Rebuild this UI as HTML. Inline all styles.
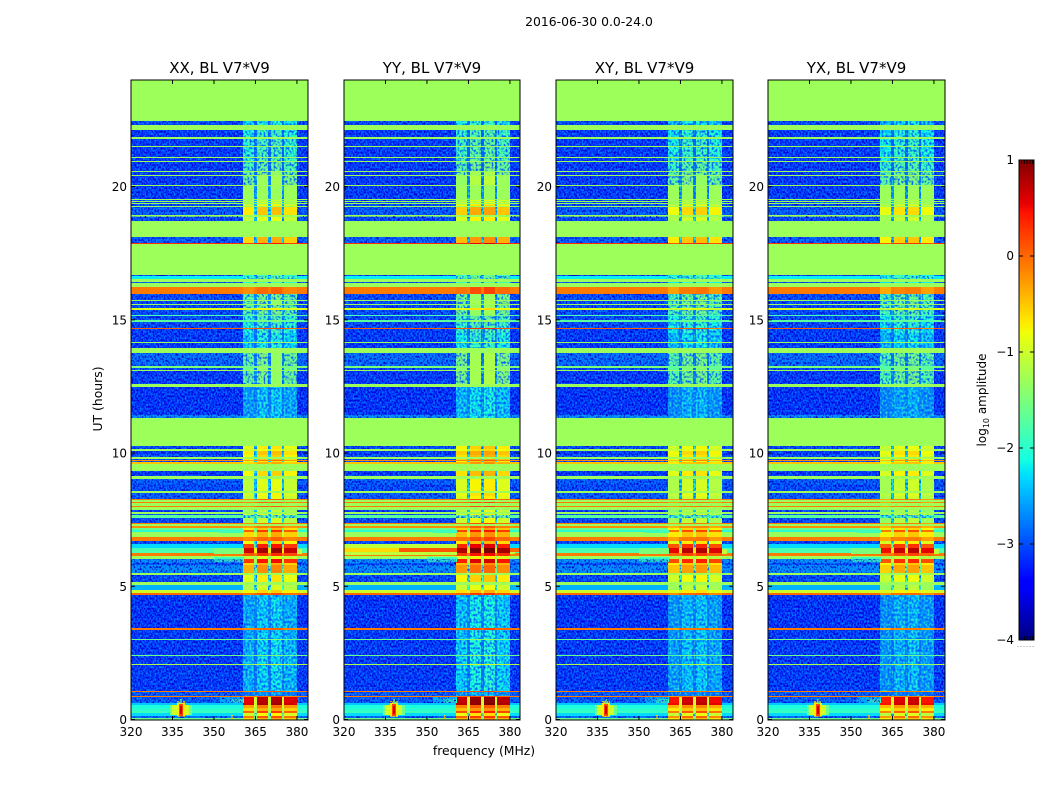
<!DOCTYPE html>
<html>
<head>
<meta charset="utf-8">
<title>Spectrogram 2016-06-30</title>
<style>
html,body{margin:0;padding:0;background:#fff;}
svg{display:block;}
text{font-family:"DejaVu Sans","Liberation Sans",sans-serif;fill:#000;}
</style>
</head>
<body>
<svg id="chart" xmlns="http://www.w3.org/2000/svg" width="1050" height="800" viewBox="0 0 1050 800">
<defs>
<filter id="speckle" filterUnits="userSpaceOnUse" x="0" y="0" width="1050" height="800" color-interpolation-filters="sRGB">
<feTurbulence type="fractalNoise" baseFrequency="0.62 0.48" numOctaves="1" seed="7" result="n"/>
<feColorMatrix in="n" type="matrix" values="0 0 0 0 0  0 0 0 0 0  0 0 0 0 0.82  -3.6 0 0 0 1.95" result="dark"/>
<feColorMatrix in="n" type="matrix" values="0 0 0 0 0  0 0 0 0 0.56  0 0 0 0 1  3.2 0 0 0 -1.5" result="light"/>
<feMerge result="m"><feMergeNode in="dark"/><feMergeNode in="light"/></feMerge>
<feComposite in="m" in2="SourceAlpha" operator="in"/>
</filter>
<filter id="speckle-band" filterUnits="userSpaceOnUse" x="0" y="0" width="1050" height="800" color-interpolation-filters="sRGB">
<feTurbulence type="fractalNoise" baseFrequency="0.5 0.42" numOctaves="1" seed="23" result="n"/>
<feColorMatrix in="n" type="matrix" values="0 0 0 0 0  0 0 0 0 0.35  0 0 0 0 1  -3.4 0 0 0 1.9" result="dark"/>
<feColorMatrix in="n" type="matrix" values="0 0 0 0 0.3  0 0 0 0 1  0 0 0 0 0.7  2.4 0 0 0 -1.25" result="light"/>
<feMerge result="m"><feMergeNode in="dark"/><feMergeNode in="light"/></feMerge>
<feComposite in="m" in2="SourceAlpha" operator="in"/>
</filter>
</defs>
<rect width="1050" height="800" fill="#fff"/>
<text x="589" y="26" font-size="12.4" text-anchor="middle">2016-06-30 0.0-24.0</text>
<text x="484" y="755" font-size="12.4" text-anchor="middle">frequency (MHz)</text>
<text transform="translate(102,399) rotate(-90)" font-size="12.4" text-anchor="middle">UT (hours)</text>
<text transform="translate(986,400) rotate(-90)" font-size="12" text-anchor="middle">log<tspan font-size="8" dy="3">10</tspan><tspan dy="-3"> amplitude</tspan></text>
<g id="panels"></g>
<g id="colorbar"></g>
</svg>
<script>
const panelTitles = ["XX, BL V7*V9","YY, BL V7*V9","XY, BL V7*V9","YX, BL V7*V9"];
const xTicks = [320,335,350,365,380];
const yTicks = [0,5,10,15,20];
const colorbarTicks = [1,0,-1,-2,-3,-4];
const F = -1.3;

// Lower hour edge of each time band, top of the plot downward from 24 h.
const bandEnds = [
22.45,22.30,22.14,21.85,21.79,21.54,21.49,21.11,21.06,20.95,
20.91,20.60,20.56,20.43,20.41,20.07,20.03,19.53,19.50,19.46,
19.43,19.38,19.36,19.32,19.30,19.26,19.23,18.95,18.91,18.88,
18.84,18.72,18.09,17.88,17.84,16.69,16.63,16.55,16.43,16.38,
16.23,15.98,15.75,15.70,15.60,15.57,15.44,15.38,15.19,15.16,
14.98,14.93,14.70,14.66,14.51,14.49,14.18,14.14,13.93,13.74,
13.25,13.21,13.10,13.07,12.60,12.47,11.43,11.30,10.25,10.17,
10.06,9.92,9.87,9.79,9.74,9.70,9.66,9.58,9.47,9.32,
9.12,9.02,8.84,8.59,8.51,8.39,8.29,8.25,8.18,8.14,
8.02,7.97,7.87,7.79,7.70,7.66,7.58,7.37,7.32,7.25,
7.20,7.12,7.04,6.86,6.71,6.59,6.43,6.24,6.15,6.04,
5.89,5.80,5.49,5.43,5.17,5.05,4.87,4.74,4.67,3.44,
3.36,3.02,2.99,2.42,2.38,2.08,2.05,1.07,1.04,0.88,
0.85,0.63,0.53,0.45,0.32,0.25,0.15,0.07,0.00];

// log10 amplitude outside the 360-380 MHz band.
const backgroundLevels = [
F,-3.0,F,-3.1,F,-3.1,F,-3.1,F,-3.1,
F,-3.1,F,-3.1,F,-3.1,F,-3.1,F,-3.0,
F,-3.0,F,-3.0,F,-3.0,F,-2.9,F,-2.9,
F,-3.0,F,-2.9,0.3,F,-3.0,-2.2,F,-2.9,
F,-0.1,-3.0,F,-3.0,F,-3.0,-0.9,-3.0,-1.8,
-3.0,-1.7,-3.0,0.05,-3.1,-0.1,-3.1,F,-3.1,F,
-2.8,-1.5,-3.0,F,-3.1,F,-3.15,-2.6,F,-3.0,
F,-3.1,-2.9,F,-3.0,-0.2,-2.9,-0.5,F,F,
-3.1,F,-2.9,-3.0,F,-2.9,-2.9,-0.1,F,-0.1,
F,-0.1,F,-3.1,F,-2.9,-1.7,-3.0,-0.1,F,
-0.2,-1.6,-2.0,F,-0.1,-3.0,-2.3,-1.8,-0.1,F,
-2.6,-3.0,-2.6,F,-3.0,F,-2.5,-1.0,0.0,-3.15,
-0.1,-3.1,-1.6,-3.1,-1.6,-3.1,-1.2,-3.1,-0.1,-2.9,
-0.1,-2.9,-2.4,-2.1,-2.0,-1.9,-2.3,-2.8,-1.6];

// log10 amplitude in the four bright sub-bands.
const subbandLevels = [
F,-2.2,F,-2.0,F,-1.9,F,-1.9,F,-1.85,
F,-1.7,F,-1.5,F,-1.4,F,-1.3,F,-1.1,
F,-1.1,F,-1.0,F,-0.9,F,-0.6,F,-0.8,
F,-1.0,F,-0.5,0.3,F,-2.0,-1.8,F,-2.0,
F,-0.1,-1.6,F,-1.5,F,-1.6,-0.9,-1.6,-1.7,
-1.9,-1.6,-2.0,0.05,-2.0,-0.1,-2.2,F,-2.2,F,
-1.5,-1.5,-1.5,F,-1.5,F,-2.45,-2.4,F,-0.8,
-0.9,-0.6,-0.7,F,-0.6,-0.2,-0.8,-0.5,F,F,
-0.7,F,-1.0,-1.0,F,-0.9,-1.0,-0.1,F,-0.1,
F,-0.1,F,-1.2,F,-1.0,-1.7,-1.1,-0.1,F,
-0.2,-0.6,0.15,-0.5,-0.1,-0.7,0.3,0.75,0.2,-1.0,
0.35,-0.5,-0.3,F,-0.8,F,-1.1,-0.7,0.0,-2.4,
-0.1,-2.4,-1.6,-2.35,-1.6,-2.35,-1.2,-2.35,-0.1,-2.7,
-0.1,0.65,0.7,-0.2,-0.5,0.1,-0.9,0.0,-0.5];

// log10 amplitude in the narrow notches between sub-bands.
const notchLevels = [
F,-2.9,F,-2.9,F,-2.9,F,-2.9,F,-2.9,
F,-2.9,F,-2.8,F,-2.7,F,-2.6,F,-2.5,
F,-2.5,F,-2.5,F,-2.5,F,-2.3,F,-2.3,
F,-2.4,F,-2.4,0.3,F,-2.8,-2.2,F,-2.8,
F,-0.1,-2.6,F,-2.6,F,-2.6,-0.9,-2.6,-1.8,
-2.7,-1.7,-2.7,0.05,-2.8,-0.1,-2.8,F,-2.8,F,
-2.8,-1.5,-2.8,F,-2.7,F,-2.7,-2.6,F,-2.4,
F,-2.4,-2.3,F,-2.3,-0.2,-2.3,-0.5,F,F,
-2.4,F,-2.4,-2.3,F,-2.4,-2.4,-0.1,F,-0.1,
F,-0.1,F,-2.4,F,-2.4,-1.7,-2.2,-0.1,F,
-0.2,-1.5,-1.5,-1.0,-0.1,-2.2,-1.5,-0.7,-0.1,F,
-1.2,-1.5,-1.6,F,-2.0,F,-1.9,-1.0,0.0,-2.7,
-0.1,-2.7,-1.6,-2.8,-1.6,-2.8,-1.2,-2.8,-0.1,-2.8,
-0.1,-1.0,-1.0,-1.0,-1.2,-1.3,-1.5,-1.5,-1.5];

// Channel edges of the column groups, in MHz, and which kind each group is.
const channelEdges = [320,360.5,364.5,365.5,369.7,370.5,374.7,375.5,380,384];
const channelKinds = ["bg","s0","n","s1","n","s2","n","s3","bg"];
const subbandOffsets = [-0.1,0.1,0.15,-0.05];
const polarisationOffsets = [0,0.15,-0.1,-0.15];

// Localised interference patches: panel (-1 = all), MHz range, hour range, level.
const patchPanels   = [-1,-1,-1,-1,-1,-1,-1,-1,-1,-1,-1,-1,-1,1,1,1,1,1];
const patchFreqLow  = [334,352,356,350,350,352,380,356,335,336.5,337.2,337.6,337.7,320,320,340,380,320];
const patchFreqHigh = [342,361,361,361,361,361,382,356.8,341,339.5,338.8,338.4,338.3,361,340,361,384,361];
const patchHourLow  = [0.16,0.63,0.63,6.2,5.9,7.0,6.2,0.02,0.16,0.08,0.12,0.2,0.6,6.42,6.28,6.28,6.28,6.18];
const patchHourHigh = [0.56,0.85,0.78,6.45,6.1,7.1,6.4,0.18,0.54,0.68,0.6,0.5,0.78,6.59,6.42,6.42,6.42,6.28];
const patchLevels   = [-1.6,-2.4,-1.9,-1.5,-1.9,-1.9,-1.1,-0.5,-1.0,-0.7,0.2,0.65,-1.5,-1.1,-0.6,0.1,0.0,-1.1];

const SVGNS = "http://www.w3.org/2000/svg";
const panelLefts = [131,344,556,768];
const panelWidths = [177,176,177,177];
const plotTop = 80, plotBottom = 719.5;

function yScale(h){ return plotBottom - (h/24)*(plotBottom-plotTop); }
function xScale(left,f){ return left + (f-320)/64*177; }
function clamp01(v){ return Math.max(0,Math.min(1,v)); }
function jet(v){
  const f = (v+4)/5;
  const r = f<0.35?0:f<0.66?(f-0.35)/0.31:f<0.89?1:1-(f-0.89)/0.11*0.5;
  const g = f<0.125?0:f<0.375?(f-0.125)/0.25:f<0.64?1:f<0.91?1-(f-0.64)/0.27:0;
  const b = f<0.11?0.5+f/0.11*0.5:f<0.34?1:f<0.65?1-(f-0.34)/0.31:0;
  return "rgb("+Math.round(clamp01(r)*255)+","+Math.round(clamp01(g)*255)+","+Math.round(clamp01(b)*255)+")";
}
function rect(parent,x,y,w,h,fill){
  const el = document.createElementNS(SVGNS,"rect");
  el.setAttribute("x",x); el.setAttribute("y",y);
  el.setAttribute("width",w); el.setAttribute("height",h);
  el.setAttribute("fill",fill);
  parent.appendChild(el);
  return el;
}
function line(parent,x1,y1,x2,y2,color){
  const el = document.createElementNS(SVGNS,"line");
  el.setAttribute("x1",x1); el.setAttribute("y1",y1);
  el.setAttribute("x2",x2); el.setAttribute("y2",y2);
  el.setAttribute("stroke",color||"#000");
  el.setAttribute("stroke-width","1");
  parent.appendChild(el);
  return el;
}
function label(parent,x,y,str,size,anchor){
  const el = document.createElementNS(SVGNS,"text");
  el.setAttribute("x",x); el.setAttribute("y",y);
  el.setAttribute("font-size",size);
  el.setAttribute("text-anchor",anchor);
  el.textContent = str;
  parent.appendChild(el);
  return el;
}
function levelFor(kind,row,pol){
  if(kind==="bg") return backgroundLevels[row];
  if(kind==="n") return notchLevels[row];
  const base = subbandLevels[row];
  if(base===F) return F;
  return base + subbandOffsets[+kind[1]] + polarisationOffsets[pol];
}

const panelsRoot = document.getElementById("panels");
panelLefts.forEach(function(left,pol){
  const panelWidth = panelWidths[pol];
  const right = left + panelWidth;
  const g = document.createElementNS(SVGNS,"g");
  
  
  panelsRoot.appendChild(g);

  const cells = document.createElementNS(SVGNS,"g");
  cells.setAttribute("shape-rendering","crispEdges");
  
  
  g.appendChild(cells);

  const texture = document.createElementNS(SVGNS,"g");
  texture.setAttribute("shape-rendering","crispEdges");
  texture.setAttribute("filter","url(#speckle)");
  
  

  const bandTexture = document.createElementNS(SVGNS,"g");
  bandTexture.setAttribute("shape-rendering","crispEdges");
  bandTexture.setAttribute("filter","url(#speckle-band)");
  
  

  let upper = 24;
  bandEnds.forEach(function(lower,row){
    const y0 = Math.round(yScale(upper));
    const y1 = Math.max(y0+1,Math.round(yScale(lower)));
    channelKinds.forEach(function(kind,c){
      const x0 = Math.round(xScale(left,channelEdges[c]));
      const x1 = Math.min(right,Math.round(xScale(left,channelEdges[c+1])));
      const level = levelFor(kind,row,pol);
      const cell = rect(cells,x0,y0,x1-x0,y1-y0,jet(level));
      
      
      if(kind==="bg" && level < -2.5){
        const grain = rect(texture,x0,y0,x1-x0,y1-y0,"#000");
        
        
      } else if(kind!=="bg" && level < -1.35 && y1-y0 > 2){
        const bandGrain = rect(bandTexture,x0,y0,x1-x0,y1-y0,"#000");
        
        
      }
    });
    upper = lower;
  });

  patchLevels.forEach(function(level,i){
    if(patchPanels[i]!==-1 && patchPanels[i]!==pol) return;
    const x0 = Math.round(xScale(left,patchFreqLow[i]));
    const x1 = Math.min(right,Math.round(xScale(left,patchFreqHigh[i])));
    const y0 = Math.round(yScale(patchHourHigh[i]));
    const y1 = Math.round(yScale(patchHourLow[i]));
    const patch = rect(cells,x0,y0,Math.max(1,x1-x0),Math.max(1,y1-y0),jet(level));
    
    
  });
  g.appendChild(texture);
  g.appendChild(bandTexture);

  const frame = rect(g,left,plotTop,panelWidth,640,"none");
  frame.setAttribute("stroke","#000");
  frame.setAttribute("stroke-width","1");
  
  

  xTicks.forEach(function(t){
    const x = xScale(left,t);
    const bottomTick = line(g,x,720,x,716);
    
    
    const topTick = line(g,x,80,x,84);
    
    
    const tickText = label(g,x,736,String(t),12,"middle");
    
    
  });
  yTicks.forEach(function(t){
    const y = yScale(t);
    const leftTick = line(g,left,y,left+4,y);
    
    
    const rightTick = line(g,right,y,right-4,y);
    
    
    const tickText = label(g,left-4,y+4.5,String(t),12,"end");
    
    
  });
  const titleEl = label(g,left+panelWidth/2,73,panelTitles[pol],15,"middle");
  
  
});

// Colorbar
const cbRoot = document.getElementById("colorbar");
const cbLeft = 1019, cbWidth = 15, cbTop = 160, cbBottom = 640;
function cbScale(v){ return cbBottom - (v+4)/5*(cbBottom-cbTop); }
const cbCells = document.createElementNS(SVGNS,"g");
cbCells.setAttribute("shape-rendering","crispEdges");


cbRoot.appendChild(cbCells);
for(let y=cbTop;y<cbBottom;y+=2){
  const band = rect(cbCells,cbLeft,y,cbWidth,2,jet(1-(y+1-cbTop)/(cbBottom-cbTop)*5));
  
  
}
const cbFrame = rect(cbRoot,cbLeft,cbTop,cbWidth,cbBottom-cbTop,"none");
cbFrame.setAttribute("stroke","#000");
cbFrame.setAttribute("stroke-width","1");


colorbarTicks.forEach(function(t){
  const y = cbScale(t);
  const tl = line(cbRoot,cbLeft,y,cbLeft+4,y);
  
  
  const tr = line(cbRoot,cbLeft+cbWidth,y,cbLeft+cbWidth-4,y);
  
  
  const tx = label(cbRoot,1014,y+4,(t<0?"\u2212":"")+Math.abs(t),12,"end");
  
  
});
for(let i=0;i<5;i++){
  const x = cbLeft+2.5+i*2.8;
  const mt = line(cbRoot,x,cbTop,x,cbTop+4);
  
  
  const mb = line(cbRoot,x,cbBottom,x,cbBottom-4);
  
  
}
for(let i=0;i<6;i++){
  const dot = rect(cbRoot,1017.5+i*3,646,1,1,"#999");
  
  
}
</script>
</body>
</html>
